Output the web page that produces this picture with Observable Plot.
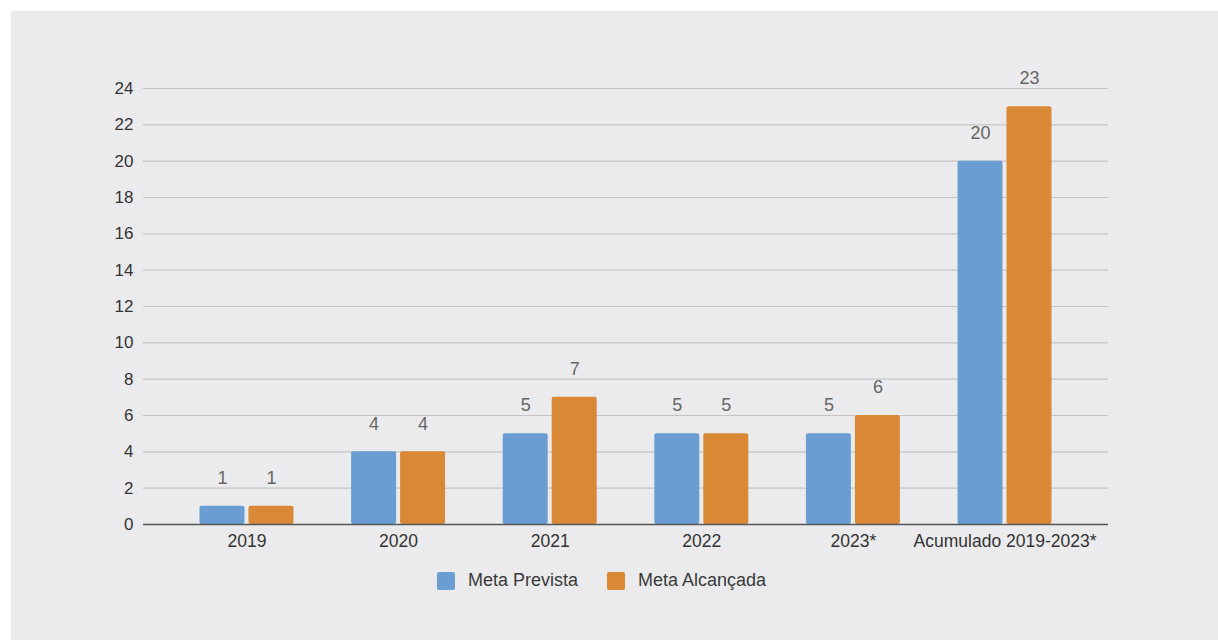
<!DOCTYPE html>
<html>
<head>
<meta charset="utf-8">
<script src="https://cdn.jsdelivr.net/npm/d3@7"></script>
<script src="https://cdn.jsdelivr.net/npm/@observablehq/plot@0.6"></script>
<style>
  html, body { margin: 0; padding: 0; background: #ffffff; width: 1218px; height: 640px; overflow: hidden; }
  #panel { position: absolute; left: 11px; top: 11px; width: 1207px; height: 629px; background: #ebebed; }
  #chart { position: absolute; left: 0; top: 0; }
  #legend { position: absolute; left: 437px; top: 570px; display: flex; align-items: center;
            font-family: 'Liberation Sans', Arial, sans-serif; font-size: 18px; color: #3a3a3a; }
  .sw { width: 18px; height: 18px; border-radius: 2px; margin-right: 13px; }
  .item { display: flex; align-items: center; margin-right: 29px; }
</style>
</head>
<body>
<div id="panel"></div>
<div id="chart"></div>
<div id="legend"></div>
<script>
const categories = ["2019", "2020", "2021", "2022", "2023*", "Acumulado 2019-2023*"];
const metaPrevista = [1, 4, 5, 5, 5, 20];
const metaAlcancada = [1, 4, 7, 5, 6, 23];
const yTicks = [0, 2, 4, 6, 8, 10, 12, 14, 16, 18, 20, 22, 24];
const seriesNames = ["Meta Prevista", "Meta Alcançada"];
const seriesColors = ["#6a9dd2", "#d98936"];

const prev = categories.map((c, i) => ({category: c, value: metaPrevista[i]}));
const alc = categories.map((c, i) => ({category: c, value: metaAlcancada[i]}));

const font = "'Liberation Sans', Arial, sans-serif";

const chart = Plot.plot({
  width: 1218,
  height: 560,
  marginLeft: 143,
  marginRight: 110,
  marginTop: 88,
  marginBottom: 36,
  style: {background: "transparent", fontFamily: font},
  x: {domain: categories, paddingInner: 0.38, paddingOuter: 0.3726, round: false, label: null},
  y: {domain: [0, 24], label: null},
  marks: [
    Plot.gridY(yTicks, {stroke: "#c4c4c6", strokeOpacity: 1, strokeWidth: 1.2}),
    Plot.barY(prev, {x: "category", y: "value", fill: seriesColors[0], insetRight: 49, rx: 2}),
    Plot.barY(alc, {x: "category", y: "value", fill: seriesColors[1], insetLeft: 49, rx: 2}),
    Plot.ruleY([0], {stroke: "#555555", strokeWidth: 1.3}),
    Plot.text(prev, {x: "category", y: "value", text: d => String(d.value), dx: -24.5, dy: -28, fontSize: 18, fill: "#666666"}),
    Plot.text(alc, {x: "category", y: "value", text: d => String(d.value), dx: 24.5, dy: -28, fontSize: 18, fill: "#666666"}),
    Plot.axisY(yTicks, {tickSize: 0, tickPadding: 10, fontSize: 17, color: "#333333", label: null}),
    Plot.axisX({tickSize: 0, tickPadding: 10, fontSize: 17.5, color: "#333333", label: null})
  ]
});
document.getElementById("chart").appendChild(chart);

const legend = document.getElementById("legend");
seriesNames.forEach((name, i) => {
  const item = document.createElement("div");
  item.className = "item";
  const sw = document.createElement("div");
  sw.className = "sw";
  sw.style.background = seriesColors[i];
  const label = document.createElement("span");
  label.textContent = name;
  item.appendChild(sw);
  item.appendChild(label);
  legend.appendChild(item);
});
</script>
</body>
</html>
